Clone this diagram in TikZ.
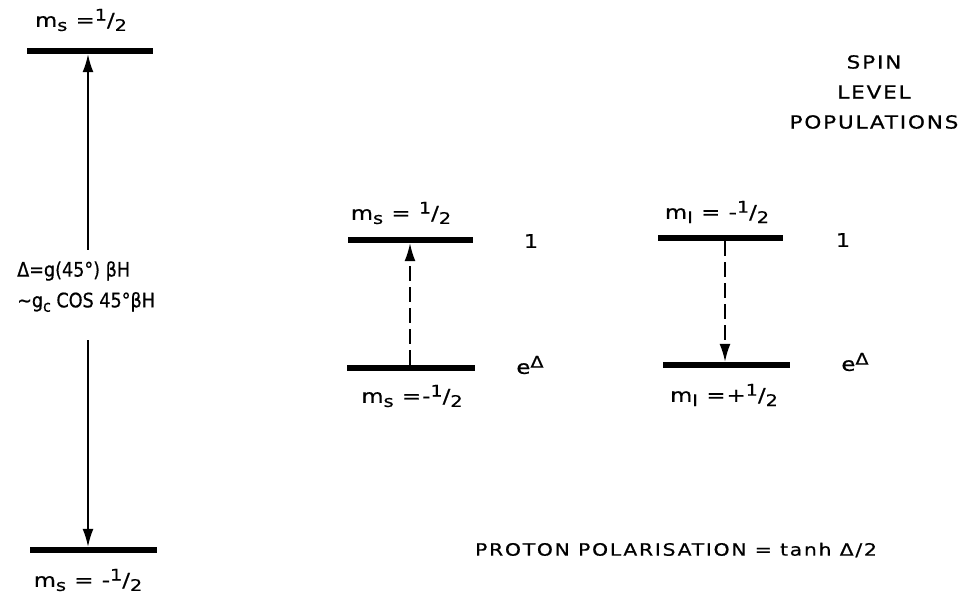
\documentclass[tikz,border=0pt]{standalone}
\usepackage{fontspec}
\setmainfont{DejaVu Sans}[FakeStretch=1.2,LetterSpace=6,FakeBold=0.6]
\newfontfamily\capf{DejaVu Sans}[FakeStretch=1.2,LetterSpace=10,FakeBold=0.6]
\newfontfamily\plainf{DejaVu Sans}[FakeStretch=0.88,FakeBold=0.6]
\usetikzlibrary{arrows.meta}
\newcommand{\smf}{\fontsize{16}{16}\selectfont}
\newcommand{\lsub}[1]{\raisebox{-.4ex}{\smf #1}}
\newcommand{\lsup}[1]{\raisebox{.6ex}{\smf #1}}
\newcommand{\hlf}{\lsup{1}/\lsub{2}}
\begin{document}
\begin{tikzpicture}[x=1pt,y=-1pt,
  bar/.style={fill=black,draw=none,minimum height=6pt,inner sep=0pt,rectangle},
  lbl/.style={inner sep=0pt,font=\fontsize{19}{21}\selectfont},
  eqn/.style={inner sep=0pt,anchor=west,font=\plainf\fontsize{20}{22}\selectfont},
  captxt/.style={inner sep=0pt,font=\capf\fontsize{17}{19}\selectfont},
  arr/.style={line width=1.8pt,-{Latex[length=18pt,width=11pt]}},
  dsh/.style={arr,dash pattern=on 15pt off 6pt}]
\useasboundingbox (0,0) rectangle (972,596);
% left diagram
\node[bar,minimum width=126pt] (L1) at (90,51) {};
\node[bar,minimum width=127pt] (L2) at (93.5,550) {};
\node[lbl] (L1t) at (81,20) {m\lsub{s} =\hlf};
\node[lbl] (L2t) at (88,580) {m\lsub{s} = -\hlf};
\node[eqn] (D1) at (17,271) {Δ=g(45°) βH};
\node[eqn] (D2) at (17,302) {\textasciitilde g\lsub{c} COS 45°βH};
\coordinate (la) at (88,250);
\coordinate (lb) at (88,340);
\draw[arr] (la) -- (la |- L1.south);
\draw[arr] (lb) -- (lb |- L2.north);
% middle diagram
\node[bar,minimum width=125pt] (M1) at (410.5,240) {};
\node[bar,minimum width=128pt] (M2) at (411,368) {};
\node[lbl] (M1t) at (401,213) {m\lsub{s} = \hlf};
\node[lbl] (M2t) at (412,396) {m\lsub{s} =-\hlf};
\node[lbl] (M1p) at (531,241) {1};
\node[lbl] (M2p) at (530,365) {e\lsup{Δ}};
\draw[dsh] (M2.north -| 410,0) -- (M1.south -| 410,0);
% right diagram
\node[bar,minimum width=125pt] (R1) at (720.5,238) {};
\node[bar,minimum width=127pt] (R2) at (726.5,365) {};
\node[lbl] (R1t) at (717,212) {m\lsub{I} = -\hlf};
\node[lbl] (R2t) at (724,395) {m\lsub{I} =+\hlf};
\node[lbl] (R1p) at (843,240) {1};
\node[lbl] (R2p) at (855,362) {e\lsup{Δ}};
\draw[dsh] (R1.south -| 725,0) -- (R2.north -| 725,0);
% titles
\node[captxt,align=center,font=\capf\fontsize{18}{20}\selectfont] (T) at (874,92) {SPIN\\[10pt]LEVEL\\[10pt]POPULATIONS};
\node[captxt] (P) at (676,550) {PROTON POLARISATION = tanh Δ/2};
\end{tikzpicture}
\end{document}
